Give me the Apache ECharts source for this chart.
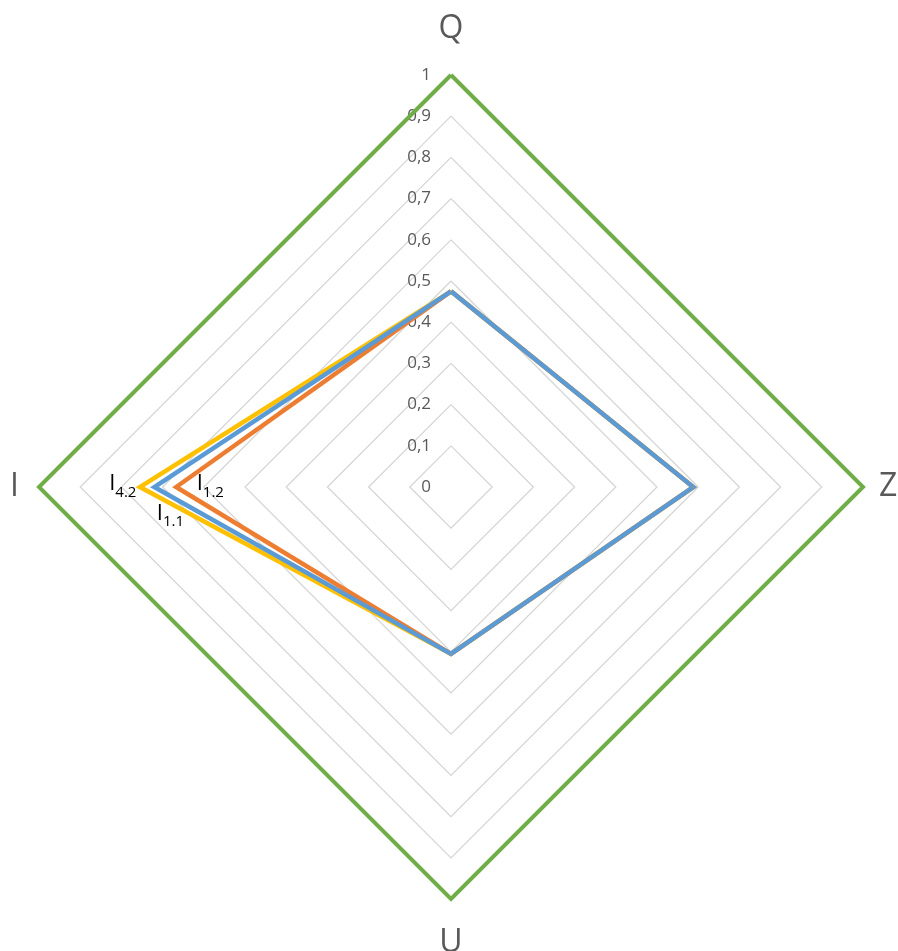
<!DOCTYPE html>
<html>
<head>
<meta charset="utf-8">
<script src="https://cdn.jsdelivr.net/npm/echarts@6/dist/echarts.min.js"></script>
<style>
  html, body { margin: 0; padding: 0; background: #ffffff; }
  #chart { width: 898px; height: 951px; }
</style>
</head>
<body>
<div id="chart"></div>
<script>
// Axes of the radar, in drawing order
const axes = ['Q', 'I', 'U', 'Z'];
const axisMax = 1;

// Values per axis (same order as `axes`)
const outline = [1, 1, 1, 1];
const i42 = [0.475, 0.755, 0.405, 0.588];
const i12 = [0.475, 0.667, 0.405, 0.588];
const i11 = [0.475, 0.720, 0.405, 0.588];

// Tag shown next to each profile's I vertex
const tags = { i42: ['I', '4.2'], i11: ['I', '1.1'], i12: ['I', '1.2'] };

const FONT = 'Open Sans';
const GREY = '#595959';

// Distance of each axis name from its vertex
const nameGaps = { Q: 30, I: 20, U: 28, Z: 16 };

const chart = echarts.init(document.getElementById('chart'), null, { renderer: 'canvas' });

const richTag = {
  m: { fontFamily: FONT, fontSize: 22, color: '#000000', lineHeight: 26, verticalAlign: 'bottom', padding: [0, 0, 5, 0] },
  s: { fontFamily: FONT, fontSize: 15, color: '#000000', lineHeight: 17, verticalAlign: 'bottom' }
};

const iIndex = axes.indexOf('I');

function tagLabel(values, tag, pos) {
  return Object.assign({
    show: true,
    formatter: p => (p.value === values[iIndex] ? '{m|' + tag[0] + '}{s|' + tag[1] + '}' : ''),
    rich: richTag
  }, pos);
}

function profile(name, values, color, tag, pos) {
  return {
    type: 'radar',
    name: name,
    symbol: 'circle',
    symbolSize: 1,
    silent: true,
    z: 2,
    lineStyle: { color: color, width: 4.5, join: 'miter' },
    itemStyle: { color: color },
    data: [{ value: values, label: tagLabel(values, tag, pos) }]
  };
}

const fmt = v => String(Math.round(v * 10) / 10).replace('.', ',');

const tickLabel = {
  show: true, showMinLabel: true, showMaxLabel: true,
  color: GREY, fontFamily: FONT, fontSize: 17, margin: 20,
  formatter: fmt
};

chart.setOption({
  backgroundColor: '#ffffff',
  animation: false,
  radar: {
    center: [451, 487],
    radius: 412,
    shape: 'polygon',
    splitNumber: 10,
    axisName: { color: GREY, fontFamily: FONT, fontSize: 32 },
    nameGap: 20,
    axisLine: { show: false },
    axisTick: { show: false },
    axisLabel: Object.assign({}, tickLabel, { show: false }),
    splitArea: { show: false },
    splitLine: { lineStyle: { color: '#D4D4D4', width: 1.2 } },
    indicator: axes.map((a, i) => {
      const ind = { name: a, min: 0, max: axisMax, nameGap: nameGaps[a] };
      if (i === 0) {
        ind.axisLabel = Object.assign({}, tickLabel);
      }
      return ind;
    })
  },
  series: [
    {
      type: 'radar',
      name: 'outline',
      symbol: 'none',
      silent: true,
      lineStyle: { color: '#70AD47', width: 4, join: 'miter' },
      data: [{ value: outline }]
    },
    profile('I4.2', i42, '#FFC000', tags.i42, { position: 'left', distance: 3 }),
    profile('I1.2', i12, '#ED7D31', tags.i12, { position: 'right', distance: 20 }),
    profile('I1.1', i11, '#5B9BD5', tags.i11, { position: 'bottom', distance: 16, offset: [16, 0] })
  ]
});
</script>
</body>
</html>
